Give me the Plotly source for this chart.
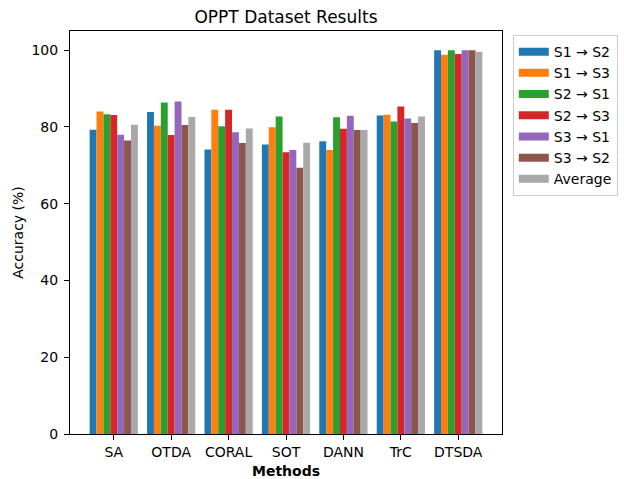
import plotly.graph_objects as go

methods = ["SA", "OTDA", "CORAL", "SOT", "DANN", "TrC", "DTSDA"]
series_names = ["S1 → S2", "S1 → S3", "S2 → S1", "S2 → S3", "S3 → S1", "S3 → S2", "Average"]

s1_s2 = [79.3, 83.9, 74.1, 75.4, 76.3, 83.0, 100.0]
s1_s3 = [84.0, 80.3, 84.5, 79.9, 74.0, 83.2, 98.8]
s2_s1 = [83.3, 86.4, 80.2, 82.7, 82.5, 81.4, 100.0]
s2_s3 = [83.1, 77.9, 84.5, 73.4, 79.5, 85.3, 99.0]
s3_s1 = [78.0, 86.6, 78.6, 74.0, 82.9, 82.2, 100.0]
s3_s2 = [76.5, 80.5, 75.8, 69.4, 79.2, 81.0, 100.0]
average = [80.6, 82.6, 79.6, 75.9, 79.2, 82.7, 99.6]

all_series = [s1_s2, s1_s3, s2_s1, s2_s3, s3_s1, s3_s2, average]
colors = ["#1f77b4", "#ff7f0e", "#2ca02c", "#d62728", "#9467bd", "#8c564b", "#a9a9a9"]

x = list(range(len(methods)))

fig = go.Figure()
for name, vals, c in zip(series_names, all_series, colors):
    fig.add_trace(go.Bar(x=x, y=vals, name=name, showlegend=False,
                         marker=dict(color=c, line=dict(width=0))))
# legend-only entries drawn as wide patches like matplotlib
for name, c in zip(series_names, colors):
    fig.add_trace(go.Scatter(x=[None], y=[None], mode="lines", name=name,
                             line=dict(color=c, width=8)))

font = "DejaVu Sans"
fig.update_layout(
    width=624, height=479,
    barmode="group", bargap=0.16, bargroupgap=0,
    plot_bgcolor="white", paper_bgcolor="white",
    margin=dict(l=70, r=122, t=31, b=45, autoexpand=False),
    font=dict(family=font, size=14, color="black"),
    title=dict(text="OPPT Dataset Results", x=(70 + 216) / 624, xanchor="center",
               y=1 - 17 / 479, yanchor="middle", font=dict(size=17)),
    legend=dict(x=1.025, y=0.99, xanchor="left", yanchor="top",
                bordercolor="#cccccc", borderwidth=1, font=dict(size=14),
                tracegroupgap=0, itemwidth=30),
    showlegend=True,
)
fig.update_xaxes(
    range=[-0.762, 6.762], tickmode="array", tickvals=x, ticktext=methods,
    showline=True, linecolor="black", linewidth=1, mirror=True,
    ticks="outside", ticklen=5, tickcolor="black", showgrid=False, zeroline=False,
    ticklabelstandoff=0,
    title=dict(text="<b>Methods</b>", font=dict(size=14), standoff=8),
)
fig.update_yaxes(
    range=[0, 105], tickvals=[0, 20, 40, 60, 80, 100],
    showline=True, linecolor="black", linewidth=1, mirror=True,
    ticks="outside", ticklen=5, tickcolor="black", showgrid=False, zeroline=False,
    ticklabelstandoff=3,
    title=dict(text="Accuracy (%)", font=dict(size=14), standoff=4),
)

fig.write_html("out.html", config={"displayModeBar": False},
               post_script="document.body.style.margin='0';")
